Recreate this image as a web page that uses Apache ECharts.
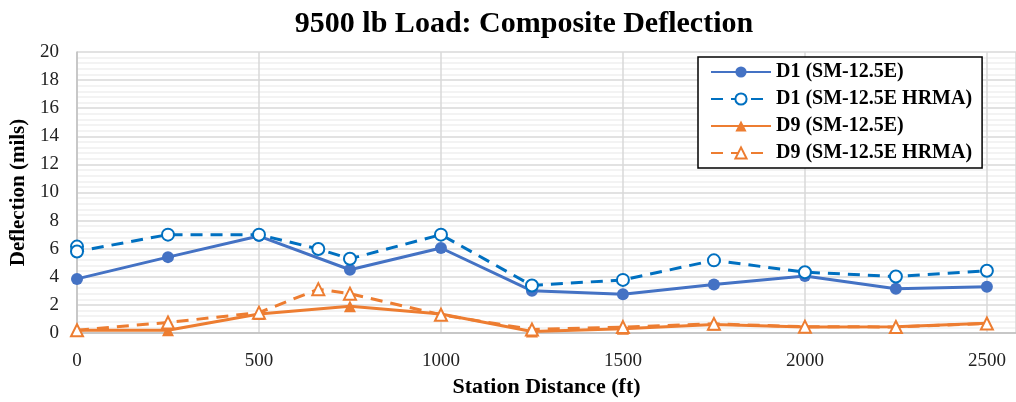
<!DOCTYPE html>
<html>
<head>
<meta charset="utf-8">
<script src="https://cdn.jsdelivr.net/npm/echarts@6/dist/echarts.min.js"></script>
<style>
  html, body { margin: 0; padding: 0; background: #fff; }
</style>
</head>
<body>
<div id="chart" style="width: 1016px; height: 402px;"></div>
<script>
// station distances (ft)
const stations = [0, 250, 500, 750, 1000, 1250, 1500, 1750, 2000, 2250, 2500];
const d1 = [3.85, 5.4, 6.9, 4.5, 6.05, 3.0, 2.75, 3.45, 4.05, 3.15, 3.3];
const d9 = [0.2, 0.2, 1.35, 1.9, 1.35, 0.1, 0.3, 0.6, 0.42, 0.45, 0.7];

// HRMA section has extra readings (two at 0 ft, one near 663 ft)
const stationsD1Hrma = [0, 0, 250, 500, 663, 750, 1000, 1250, 1500, 1750, 2000, 2250, 2500];
const d1Hrma = [6.15, 5.8, 7.0, 7.0, 5.98, 5.28, 7.0, 3.38, 3.78, 5.17, 4.33, 4.02, 4.43];
const stationsD9Hrma = [0, 250, 500, 663, 750, 1000, 1250, 1500, 1750, 2000, 2250, 2500];
const d9Hrma = [0.2, 0.75, 1.45, 3.12, 2.8, 1.3, 0.25, 0.42, 0.65, 0.45, 0.43, 0.68];

const seriesNames = ['D1 (SM-12.5E)', 'D1 (SM-12.5E HRMA)', 'D9 (SM-12.5E)', 'D9 (SM-12.5E HRMA)'];

const zip = (xs, ys) => xs.map((x, i) => [x, ys[i]]);
const font = '"Liberation Serif", "Times New Roman", serif';

const blue = '#4472c4';
const blueHrma = '#0070c0';
const orange = '#ed7d31';

const chart = echarts.init(document.getElementById('chart'));

const option = {
  animation: false,
  textStyle: { fontFamily: font },
  title: {
    text: '9500 lb Load: Composite Deflection',
    left: 519,
    top: 4,
    textAlign: 'center',
    textStyle: { fontFamily: font, fontSize: 30, fontWeight: 'bold', color: '#000' }
  },
  grid: { left: 77, right: 0, top: 52, bottom: 69, outerBoundsMode: 'none' },
  legend: {
    orient: 'vertical',
    left: 698,
    top: 57,
    padding: [5, 10, 5, 12],
    itemGap: 7,
    itemWidth: 60,
    itemHeight: 14,
    backgroundColor: '#fff',
    borderColor: '#000',
    borderWidth: 1.5,
    data: seriesNames,
    textStyle: { fontFamily: font, fontSize: 20, fontWeight: 'bold', color: '#000' }
  },
  xAxis: {
    type: 'value',
    min: 0,
    max: 2580,
    interval: 500,
    name: 'Station Distance (ft)',
    nameLocation: 'middle',
    nameGap: 43,
    nameTextStyle: { fontFamily: font, fontSize: 22, fontWeight: 'bold', color: '#000' },
    axisLine: { show: true, lineStyle: { color: '#bfbfbf', width: 1.5 } },
    axisTick: { show: false },
    axisLabel: {
      fontFamily: font, fontSize: 19, color: '#222', margin: 19,
      formatter: v => (v % 500 === 0 ? String(v) : '')
    },
    splitLine: { show: true, lineStyle: { color: '#d9d9d9', width: 1.5 } }
  },
  yAxis: {
    type: 'value',
    min: 0,
    max: 20,
    interval: 2,
    name: 'Deflection (mils)',
    nameLocation: 'middle',
    nameGap: 41,
    nameTextStyle: { fontFamily: font, fontSize: 21, fontWeight: 'bold', color: '#000' },
    axisLine: { show: true, lineStyle: { color: '#bfbfbf', width: 1.5 } },
    axisTick: { show: false },
    axisLabel: { fontFamily: font, fontSize: 19, color: '#222', margin: 18 },
    splitLine: { show: true, lineStyle: { color: '#d9d9d9', width: 1.5 } },
    minorTick: { show: false, splitNumber: 5 },
    minorSplitLine: { show: true, lineStyle: { color: '#efefef', width: 1.5 } }
  },
  series: [
    {
      name: seriesNames[0],
      type: 'line',
      data: zip(stations, d1),
      symbol: 'circle',
      symbolSize: 12,
      lineStyle: { color: blue, width: 3 },
      itemStyle: { color: blue },
      z: 3
    },
    {
      name: seriesNames[1],
      type: 'line',
      data: zip(stationsD1Hrma, d1Hrma),
      symbol: 'circle',
      symbolSize: 12,
      lineStyle: { color: blueHrma, width: 3, type: [12, 8] },
      itemStyle: { color: '#fff', borderColor: blueHrma, borderWidth: 2 },
      z: 4
    },
    {
      name: seriesNames[2],
      type: 'line',
      data: zip(stations, d9),
      symbol: 'triangle',
      symbolSize: 12,
      lineStyle: { color: orange, width: 3 },
      itemStyle: { color: orange },
      z: 3
    },
    {
      name: seriesNames[3],
      type: 'line',
      data: zip(stationsD9Hrma, d9Hrma),
      symbol: 'triangle',
      symbolSize: 12,
      lineStyle: { color: orange, width: 3, type: [12, 8] },
      itemStyle: { color: '#fff', borderColor: orange, borderWidth: 2 },
      z: 4
    }
  ]
};

chart.setOption(option);
</script>
</body>
</html>
